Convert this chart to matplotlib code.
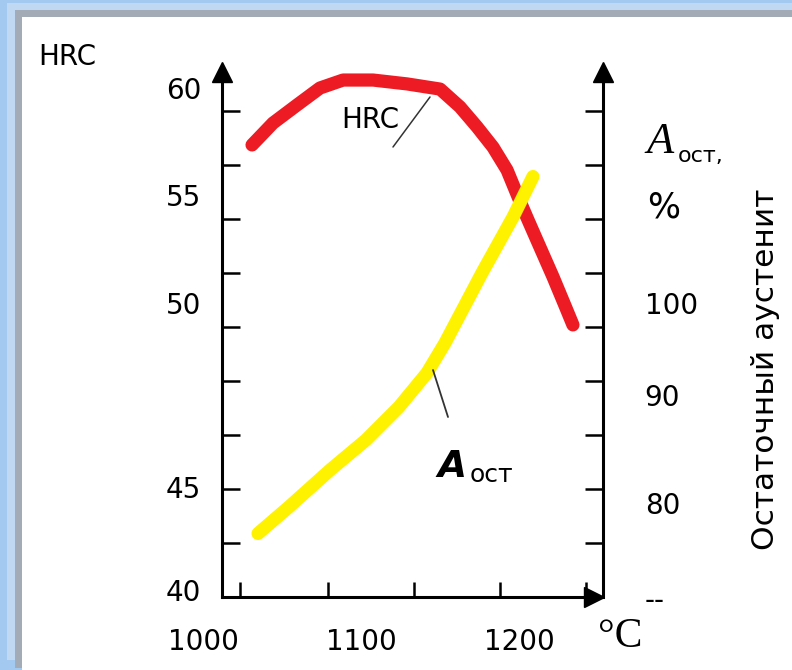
import numpy as np
import matplotlib
matplotlib.use('Agg')
import matplotlib.pyplot as plt
from matplotlib.patches import Rectangle
from matplotlib.ticker import FixedLocator, FixedFormatter

# ---------------- data ----------------
temp_hrc = [1030.6, 1043.9, 1059.1, 1073.6, 1088.2, 1107.2, 1128.7, 1149.6, 1162.2,
            1173.0, 1183.1, 1192.0, 1199.0, 1205.3, 1212.8, 1221.1, 1229.3, 1233.7]
hrc = [57.34, 58.36, 59.20, 59.99, 60.36, 60.36, 60.18, 59.94, 59.11,
       58.18, 57.24, 56.17, 54.92, 53.85, 52.60, 51.22, 49.87, 49.41]

temp_a = [1034.4, 1054.0, 1080.0, 1102.7, 1123.6, 1141.3, 1152.7, 1176.1, 1195.8, 1208.4]
a_ost = [76.8, 79.6, 83.06, 85.84, 88.9, 92.4, 95.67, 103.3, 109.4, 113.8]

x_ticks = [1000, 1100, 1200]
x_tick_labels = ['1000', '1100', '1200']
hrc_ticks = [40, 45, 50, 55, 60]
hrc_tick_labels = ['40', '45', '50', '55', '60']
a_ticks = [70, 80, 90, 100]
a_tick_labels = ['--', '80', '90', '100']

# ---------------- layout (schematic, non-uniform axes) ----------------
W, H = 792, 670
PX_1000 = 203.7          # pixel x of 1000 °C
PX_PER_DEG = 1.58
AXIS_PY = 597            # pixel y of the horizontal axis
PX_PER_U = 54            # spacing of tick marks
HRC_U = [0.13, 2.04, 5.44, 7.44, 9.43]   # layout units of HRC labels
A_U = [-0.02, 1.74, 3.74, 5.44]          # layout units of A labels


def T(px):
    return 1000 + (np.asarray(px, float) - PX_1000) / PX_PER_DEG


def U(py):
    return (AXIS_PY - np.asarray(py, float)) / PX_PER_U


def make_scale(vals, us):
    v = np.array(vals, float)
    u = np.array(us, float)
    lo = (u[1] - u[0]) / (v[1] - v[0])
    hi = (u[-1] - u[-2]) / (v[-1] - v[-2])
    span = 1000.0
    v_ext = np.concatenate([[v[0] - span], v, [v[-1] + span]])
    u_ext = np.concatenate([[u[0] - span * lo], u, [u[-1] + span * hi]])

    def fwd(x):
        return np.interp(np.asarray(x, float), v_ext, u_ext)

    def inv(y):
        return np.interp(np.asarray(y, float), u_ext, v_ext)
    return fwd, inv


fwd_h, inv_h = make_scale(hrc_ticks, HRC_U)
fwd_a, inv_a = make_scale(a_ticks, A_U)

fig = plt.figure(figsize=(W / 100, H / 100), dpi=100)
fig.patch.set_facecolor('#a3c9f1')


def frect(x0, y0, x1, y1, color):
    fig.add_artist(Rectangle((x0 / W, 1 - y1 / H), (x1 - x0) / W, (y1 - y0) / H,
                             transform=fig.transFigure, facecolor=color,
                             edgecolor='none', zorder=-10))


frect(7, 3, W, 660, '#c0d8f1')
frect(15, 10, W, 668, '#a2abb6')
frect(22, 17, W, H, '#ffffff')

AX_L, AX_R, AX_T, AX_B = 150, 640, 40, 620
ax = fig.add_axes([AX_L / W, 1 - AX_B / H, (AX_R - AX_L) / W, (AX_B - AX_T) / H])
ax.patch.set_alpha(0)
ax.set_yscale('function', functions=(fwd_h, inv_h))
ax.set_xlim(T(AX_L), T(AX_R))
ax.set_ylim(inv_h(U(AX_B)), inv_h(U(AX_T)))

x_left = float(T(222))
x_right = float(T(603))
y0_h = float(inv_h(0))
ytop_h = float(inv_h(U(72)))

for s in ['top', 'right']:
    ax.spines[s].set_visible(False)
ax.spines['left'].set_position(('data', x_left))
ax.spines['left'].set_bounds(y0_h, ytop_h)
ax.spines['bottom'].set_position(('data', y0_h))
ax.spines['bottom'].set_bounds(x_left, float(T(596)))
for s in ['left', 'bottom']:
    ax.spines[s].set_linewidth(2.2)

ax.yaxis.set_ticks_position('left')
ax.xaxis.set_ticks_position('bottom')
ax.yaxis.set_major_locator(FixedLocator(hrc_ticks))
ax.yaxis.set_major_formatter(FixedFormatter(hrc_tick_labels))
ax.yaxis.set_minor_locator(FixedLocator(inv_h(np.arange(1, 10))))
ax.xaxis.set_major_locator(FixedLocator(x_ticks))
ax.xaxis.set_major_formatter(FixedFormatter(x_tick_labels))
ax.xaxis.set_minor_locator(FixedLocator(T([240, 328, 414, 500, 586])))
ax.tick_params(axis='y', which='major', length=0, pad=15, labelsize=20)
ax.tick_params(axis='x', which='major', length=0, pad=22, labelsize=20)
ax.tick_params(axis='y', which='minor', length=13, width=1.8, direction='in')
ax.tick_params(axis='x', which='minor', length=11, width=1.8, direction='in')

ax2 = ax.twinx()
ax2.set_yscale('function', functions=(fwd_a, inv_a))
ax2.set_ylim(inv_a(U(AX_B)), inv_a(U(AX_T)))
for s in ['top', 'left', 'bottom']:
    ax2.spines[s].set_visible(False)
ax2.spines['right'].set_position(('data', x_right))
ax2.spines['right'].set_bounds(float(inv_a(0)), float(inv_a(U(72))))
ax2.spines['right'].set_linewidth(2.2)
ax2.yaxis.set_major_locator(FixedLocator(a_ticks))
ax2.yaxis.set_major_formatter(FixedFormatter(a_tick_labels))
ax2.yaxis.set_minor_locator(FixedLocator(inv_a(np.arange(1, 10))))
ax2.tick_params(axis='y', which='major', length=0, pad=30, labelsize=20)
ax2.tick_params(axis='y', which='minor', length=13, width=1.8, direction='in')

# arrow heads on axes
ax.plot([x_left], [ytop_h], marker='^', ms=15, color='k', clip_on=False, zorder=5)
ax.plot([float(T(594))], [y0_h], marker='>', ms=15, color='k', clip_on=False, zorder=5)
ax2.plot([x_right], [float(inv_a(U(72)))], marker='^', ms=15, color='k', clip_on=False, zorder=5)

# curves
ax.plot(temp_hrc, hrc, color='#ed1c24', lw=9.5, solid_capstyle='round',
        solid_joinstyle='round', zorder=3)
ax2.plot(temp_a, a_ost, color='#fff200', lw=9.5, solid_capstyle='round',
         solid_joinstyle='round', zorder=3)

# leader lines
ax.annotate('', xy=(float(T(430)), float(inv_h(U(97)))), xycoords='data',
            xytext=(393, H - 147), textcoords='figure pixels',
            arrowprops=dict(arrowstyle='-', color='#333333', lw=1.1, shrinkA=0, shrinkB=0))
ax2.annotate('', xy=(float(T(433)), float(inv_a(U(370)))), xycoords='data',
             xytext=(448, H - 417), textcoords='figure pixels',
             arrowprops=dict(arrowstyle='-', color='#333333', lw=1.3, shrinkA=0, shrinkB=0))


def ftext(x, y, s, **kw):
    fig.text(x / W, 1 - y / H, s, **kw)


ftext(38, 57, 'HRC', fontsize=20, va='center', ha='left')
ftext(370, 120, 'HRC', fontsize=20, va='center', ha='center')
ftext(646, 153, 'A', fontsize=32, style='italic', family='Liberation Serif',
      va='baseline', ha='left')
ftext(678, 162, 'ост,', fontsize=16, va='baseline', ha='left')
ftext(647, 207, '%', fontsize=25, va='center', ha='left')
ftext(765, 369, 'Остаточный аустенит', fontsize=22.5, rotation=90,
      va='center', ha='center')
ftext(437, 477, 'A', fontsize=27, style='italic', weight='bold', va='baseline', ha='left')
ftext(470, 482, 'ост', fontsize=18, va='baseline', ha='left')
ftext(598, 637, '°C', fontsize=30, family='Liberation Serif', va='center', ha='left')

fig.savefig('out.png', dpi=100, facecolor=fig.get_facecolor())
